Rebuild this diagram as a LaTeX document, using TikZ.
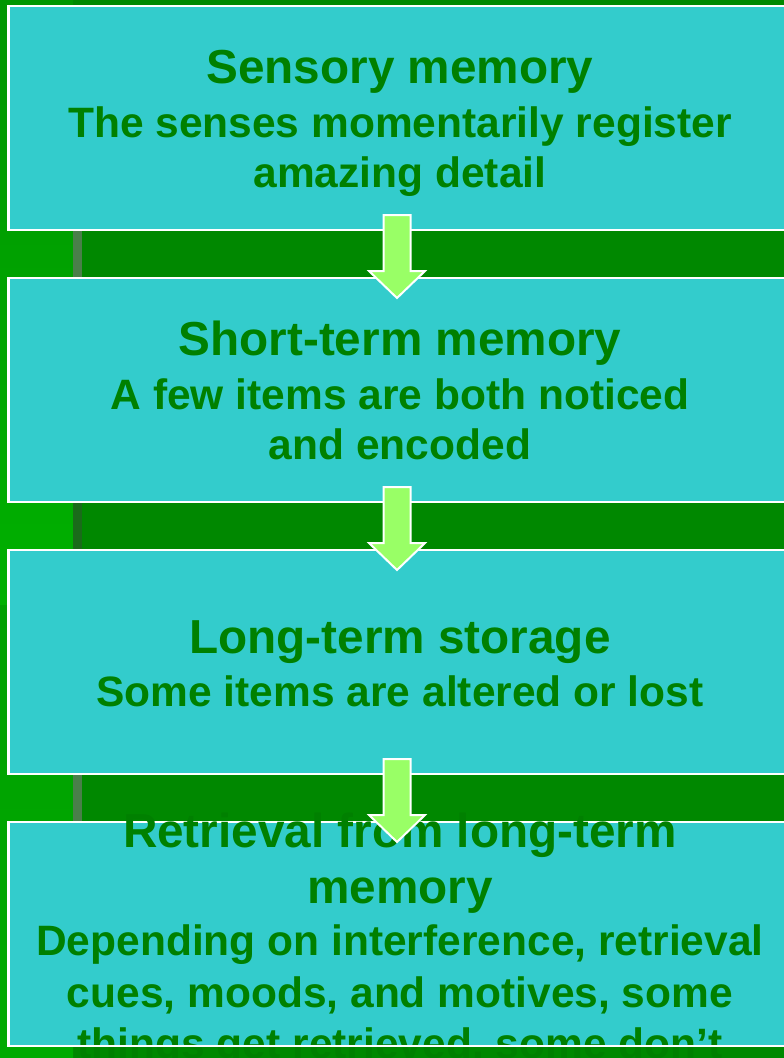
\documentclass[tikz,border=0pt]{standalone}
\usepackage{fontspec}
\setmainfont{Liberation Sans}
\usetikzlibrary{calc}
\definecolor{bgdark}{HTML}{008800}
\definecolor{boxfill}{HTML}{33CCCC}
\definecolor{txtgreen}{HTML}{008000}
\definecolor{arrowfill}{HTML}{99FF66}
\definecolor{bargrey}{HTML}{4A7F4A}
\definecolor{bardark}{HTML}{1A6B1A}
\definecolor{lefta}{HTML}{009600}
\definecolor{leftb}{HTML}{00B000}
\definecolor{leftc}{HTML}{00A000}
\definecolor{leftd}{HTML}{009900}
\definecolor{lefte}{HTML}{00AA00}
\begin{document}
\begin{tikzpicture}[x=1pt,y=-1pt,
  memobox/.style={draw=white,line width=2.5pt,fill=boxfill,minimum width=784pt,
    minimum height=224pt,inner sep=0pt,outer sep=0pt,anchor=north west},
  titletext/.style={font=\bfseries\fontsize{47.7}{54}\selectfont,text=txtgreen,anchor=base,inner sep=0pt},
  bodytext/.style={font=\bfseries\fontsize{42.5}{50}\selectfont,text=txtgreen,anchor=base,inner sep=0pt},
  blockarrow/.style={draw=white,line width=2pt,fill=arrowfill,line join=miter}]
\useasboundingbox (0,0) rectangle (784,1058);
% background
\fill[bgdark] (0,0) rectangle (784,1058);
\shade[top color=lefta,bottom color=leftb] (0,0) rectangle (73,605);
\shade[top color=leftc,middle color=leftd,bottom color=lefte] (0,605) rectangle (73,1058);
\fill[bargrey] (73,230) rectangle (82,278);
\fill[bardark] (73,502) rectangle (82,550);
\fill[bargrey] (73,774) rectangle (82,822);
% boxes
\node[memobox] (b1) at (8.5,6) {};
\node[memobox] (b2) at (8.5,278) {};
\node[memobox] (b3) at (8.5,550) {};
\node[memobox] (b4) at (8.5,822) {};
% texts
\node[titletext] (t1) at (400,83) {Sensory memory};
\node[bodytext] (d1a) at (400,137) {The senses momentarily register};
\node[bodytext] (d1b) at (400,187) {amazing detail};
\node[titletext] (t2) at (400,355) {Short-term memory};
\node[bodytext] (d2a) at (400,409) {A few items are both noticed};
\node[bodytext] (d2b) at (400,459) {and encoded};
\node[titletext] (t3) at (400,653) {Long-term storage};
\node[bodytext] (d3) at (400,706) {Some items are altered or lost};
\node[titletext] (t4a) at (400,847) {Retrieval from long-term};
\node[titletext] (t4b) at (400,903) {memory};
\node[bodytext] (d4a) at (400,955) {Depending on interference, retrieval};
\node[bodytext] (d4b) at (400,1007) {cues, moods, and motives, some};
\node[bodytext] (d4c) at (400,1058) {things get retrieved, some don’t};
% arrows
\foreach \i in {1,2,3}{
  \coordinate (a\i) at ($(b\i.south west)+(388.5,0)$);
  \draw[blockarrow] ($(a\i)+(-13.5,-15)$) -- ++(27,0) -- ++(0,56) -- ++(14.5,0)
    -- ($(a\i)+(0,68)$) -- ($(a\i)+(-28,41)$) -- ++(14.5,0) -- cycle;
}
\draw[white,line width=2.5pt] (b4.south west) -- (b4.south east);
\end{tikzpicture}
\end{document}
